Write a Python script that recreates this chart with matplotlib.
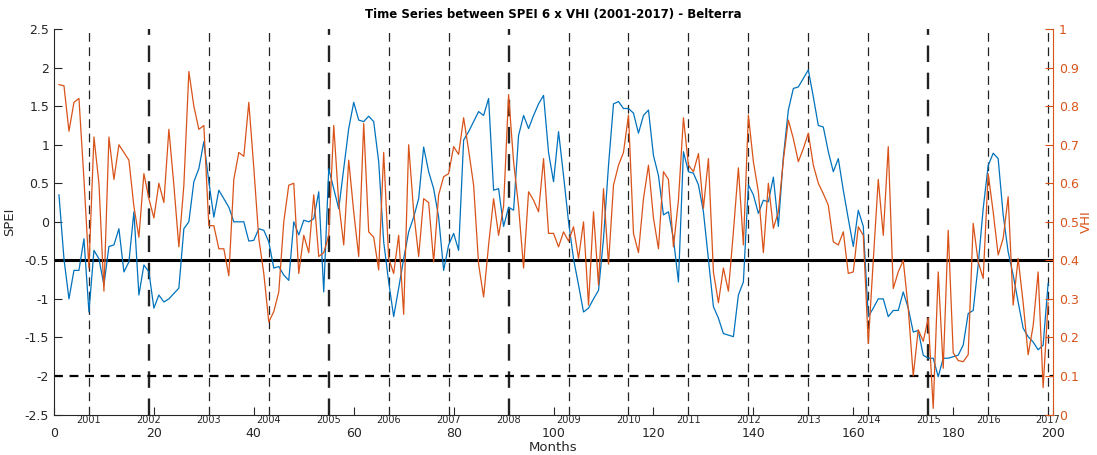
import numpy as np
import matplotlib
matplotlib.use("Agg")
import matplotlib.pyplot as plt
import matplotlib.transforms as mtransforms
from matplotlib.ticker import FormatStrFormatter

# data (one value per month, months 1..199)
spei = [
    0.35, -0.48, -1.0, -0.63, -0.63, -0.22, -1.17, -0.37, -0.48, -0.82,
    -0.32, -0.3, -0.09, -0.65, -0.52, 0.13, -0.95, -0.56, -0.65, -1.12,
    -0.95, -1.04, -1.0, -0.93, -0.86, -0.09, 0.0, 0.52, 0.69, 1.04,
    0.52, 0.06, 0.41, 0.30, 0.19, 0.0, 0.0, 0.0, -0.25, -0.24,
    -0.09, -0.11, -0.26, -0.6, -0.58, -0.69, -0.76, 0.0, -0.17, 0.02,
    0.0, 0.04, 0.39, -0.91, 0.69, 0.43, 0.17, 0.69, 1.21, 1.55,
    1.32, 1.30, 1.37, 1.30, 0.78, -0.26, -0.78, -1.23, -0.86, -0.48,
    -0.13, 0.06, 0.30, 0.97, 0.65, 0.43, 0.06, -0.63, -0.30, -0.15,
    -0.37, 1.06, 1.17, 1.30, 1.43, 1.38, 1.60, 0.41, 0.43, -0.06,
    0.19, 0.15, 1.12, 1.38, 1.21, 1.38, 1.53, 1.64, 0.9, 0.52,
    1.17, 0.6, 0.0, -0.48, -0.82, -1.17, -1.12, -1.0, -0.89, -0.22,
    0.73, 1.53, 1.56, 1.47, 1.47, 1.41, 1.15, 1.38, 1.45, 0.86,
    0.6, 0.09, 0.13, -0.22, -0.78, 0.91, 0.65, 0.63, 0.48, 0.13,
    -0.48, -1.1, -1.25, -1.45, -1.47, -1.49, -0.95, -0.78, 0.48, 0.35,
    0.11, 0.28, 0.26, 0.58, -0.06, 0.84, 1.45, 1.73, 1.75, 1.86,
    1.97, 1.62, 1.25, 1.23, 0.91, 0.65, 0.82, 0.41, 0.04, -0.32,
    0.15, -0.06, -1.23, -1.12, -1.0, -1.0, -1.23, -1.15, -1.15, -0.91,
    -1.12, -1.43, -1.41, -1.73, -1.77, -1.77, -2.01, -1.77, -1.77, -1.75,
    -1.73, -1.6, -1.19, -1.15, -0.56, 0.17, 0.73, 0.89, 0.82, 0.09,
    -0.39, -0.69, -1.04, -1.38, -1.49, -1.56, -1.66, -1.6, -0.8,
]
vhi = [
    0.856, 0.853, 0.735, 0.81, 0.82, 0.61, 0.38, 0.72, 0.60, 0.32,
    0.72, 0.61, 0.70, 0.68, 0.66, 0.54, 0.46, 0.625, 0.56, 0.51,
    0.60, 0.55, 0.74, 0.595, 0.435, 0.595, 0.89, 0.80, 0.74, 0.75,
    0.49, 0.49, 0.43, 0.43, 0.36, 0.61, 0.68, 0.67, 0.81, 0.64,
    0.457, 0.366, 0.24, 0.267, 0.318, 0.50, 0.595, 0.60, 0.366, 0.465,
    0.42, 0.57, 0.41, 0.42, 0.465, 0.75, 0.55, 0.44, 0.66, 0.526,
    0.41, 0.755, 0.474, 0.46, 0.375, 0.68, 0.405, 0.366, 0.465, 0.26,
    0.70, 0.526, 0.41, 0.56, 0.55, 0.396, 0.57, 0.617, 0.625, 0.695,
    0.675, 0.77, 0.686, 0.595, 0.39, 0.305, 0.44, 0.56, 0.465, 0.54,
    0.83, 0.656, 0.54, 0.38, 0.578, 0.556, 0.526, 0.664, 0.47, 0.47,
    0.435, 0.474, 0.45, 0.487, 0.405, 0.5, 0.284, 0.526, 0.336, 0.586,
    0.39, 0.595, 0.647, 0.68, 0.777, 0.47, 0.42, 0.56, 0.647, 0.51,
    0.43, 0.63, 0.61, 0.435, 0.556, 0.77, 0.647, 0.63, 0.677, 0.535,
    0.664, 0.37, 0.29, 0.38, 0.32, 0.474, 0.64, 0.44, 0.777, 0.656,
    0.578, 0.42, 0.60, 0.483, 0.526, 0.66, 0.764, 0.716, 0.656, 0.69,
    0.73, 0.647, 0.60, 0.573, 0.543, 0.448, 0.44, 0.474, 0.366, 0.37,
    0.487, 0.465, 0.184, 0.40, 0.61, 0.465, 0.695, 0.327, 0.37, 0.40,
    0.275, 0.10, 0.22, 0.19, 0.25, 0.016, 0.37, 0.12, 0.478, 0.16,
    0.14, 0.137, 0.155, 0.496, 0.396, 0.353, 0.625, 0.526, 0.414, 0.457,
    0.565, 0.284, 0.405, 0.29, 0.155, 0.23, 0.37, 0.07, 0.29,
]
months = np.arange(1, len(spei) + 1)

years = [str(y) for y in range(2001, 2018)]
year_months = [7 + 12 * i for i in range(len(years))]
heavy_years = ["2002", "2005", "2008", "2015"]

drought_level = -0.5
extreme_level = -2.0

blue = "#0072BD"
orange = "#D95319"
txt = "#262626"

fig = plt.figure(figsize=(10.97, 4.55), dpi=100)
ax = fig.add_axes([0.0492, 0.089, 0.9108, 0.847])
ax2 = ax.twinx()

# year separators
for m, y in zip(year_months, years):
    lw = 1.7 if y in heavy_years else 0.9
    ax.axvline(m, color="#222222", lw=lw, ls=(0, (7, 4.5)), zorder=1)
ax.axhline(drought_level, color="black", lw=2.2, zorder=2)
ax.axhline(extreme_level, color="black", lw=1.6, ls=(0, (4, 3)), zorder=2)

ax.plot(months, spei, color=blue, lw=0.9, zorder=3)
ax2.plot(months, vhi, color=orange, lw=0.9, zorder=3)

ax.set_xlim(0, 200)
ax.set_ylim(-2.5, 2.5)
ax2.set_ylim(0, 1)

ax.set_xticks(np.arange(0, 201, 20))
ax.set_yticks(np.arange(-2.5, 2.51, 0.5))
ax2.set_yticks(np.arange(0, 1.01, 0.1))
ax.yaxis.set_major_formatter(FormatStrFormatter("%g"))
ax2.yaxis.set_major_formatter(FormatStrFormatter("%g"))

ax.tick_params(axis="both", direction="in", length=6, width=0.8,
               labelsize=9, colors=txt)
ax.tick_params(axis="x", pad=9)
ax2.tick_params(axis="y", direction="in", length=6, width=0.8,
                labelsize=9, colors=orange, pad=4)

for a in (ax, ax2):
    a.spines["top"].set_visible(False)
ax.spines["left"].set_color(txt)
ax.spines["bottom"].set_color(txt)
ax.spines["right"].set_visible(False)
ax2.spines["left"].set_visible(False)
ax2.spines["bottom"].set_visible(False)
ax2.spines["right"].set_color(orange)

trans = mtransforms.blended_transform_factory(ax.transData, ax.transAxes)
for m, y in zip(year_months, years):
    ax.text(m, -0.015, y, transform=trans, ha="center", va="center",
            fontsize=7, color=txt)

ax.set_xlabel("Months", fontsize=9.5, color=txt, labelpad=1)
ax.set_ylabel("SPEI", fontsize=9.5, color=txt, labelpad=6)
ax2.set_ylabel("VHI", fontsize=9.5, color=orange, labelpad=1)
ax.set_title("Time Series between SPEI 6 x VHI (2001-2017) - Belterra",
             fontsize=8.5, fontweight="bold", color="black", pad=8)

fig.savefig("out.png", dpi=100)
